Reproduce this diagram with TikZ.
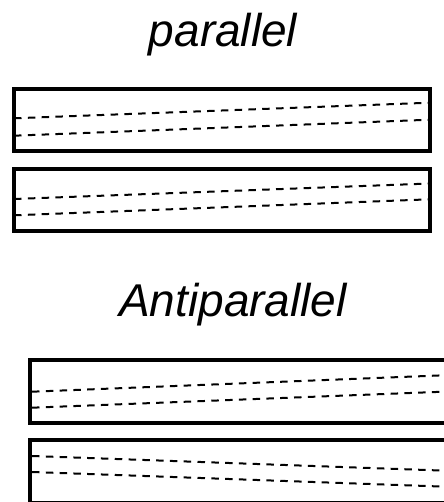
\documentclass[tikz,border=0pt]{standalone}
\usepackage{fontspec}
\setmainfont{Liberation Sans}
\begin{document}
\begin{tikzpicture}[x=1bp,y=-1bp,
  cell/.style={draw=black, line width=4bp, fill=white},
  strand/.style={draw=black, line width=2bp, dash pattern=on 7.5bp off 6.3bp},
  heading/.style={font=\fontsize{46bp}{50bp}\selectfont\itshape, inner sep=0pt, anchor=base}]
\useasboundingbox (0,0) rectangle (444,502);
\begin{scope}
\clip (0,0) rectangle (444,502);

% headings
\node[heading] (tpar) at (223,46.7) {parallel};
\node[heading] (tanti) at (233,316.7) {Antiparallel};

% parallel pair
\draw[cell] (14,88.7) rectangle (430,151.3);
\draw[strand] (14,118.3) -- (430,102.7);
\draw[strand] (14,135.7) -- (430,119.7);

\draw[cell] (14,168.7) rectangle (430,231.3);
\draw[strand] (14,199) -- (430,183.5);
\draw[strand] (14,215.3) -- (430,199.3);

% antiparallel pair
\draw[cell] (30,360) rectangle (446,423.3);
\draw[strand] (32,391.7) -- (446,375.2);
\draw[strand] (32,407.7) -- (446,391.6);

\draw[cell] (30,440) rectangle (446,503);
\draw[strand] (32,456) -- (446,470.7);
\draw[strand] (32,472) -- (446,486.7);
\end{scope}
\end{tikzpicture}
\end{document}
